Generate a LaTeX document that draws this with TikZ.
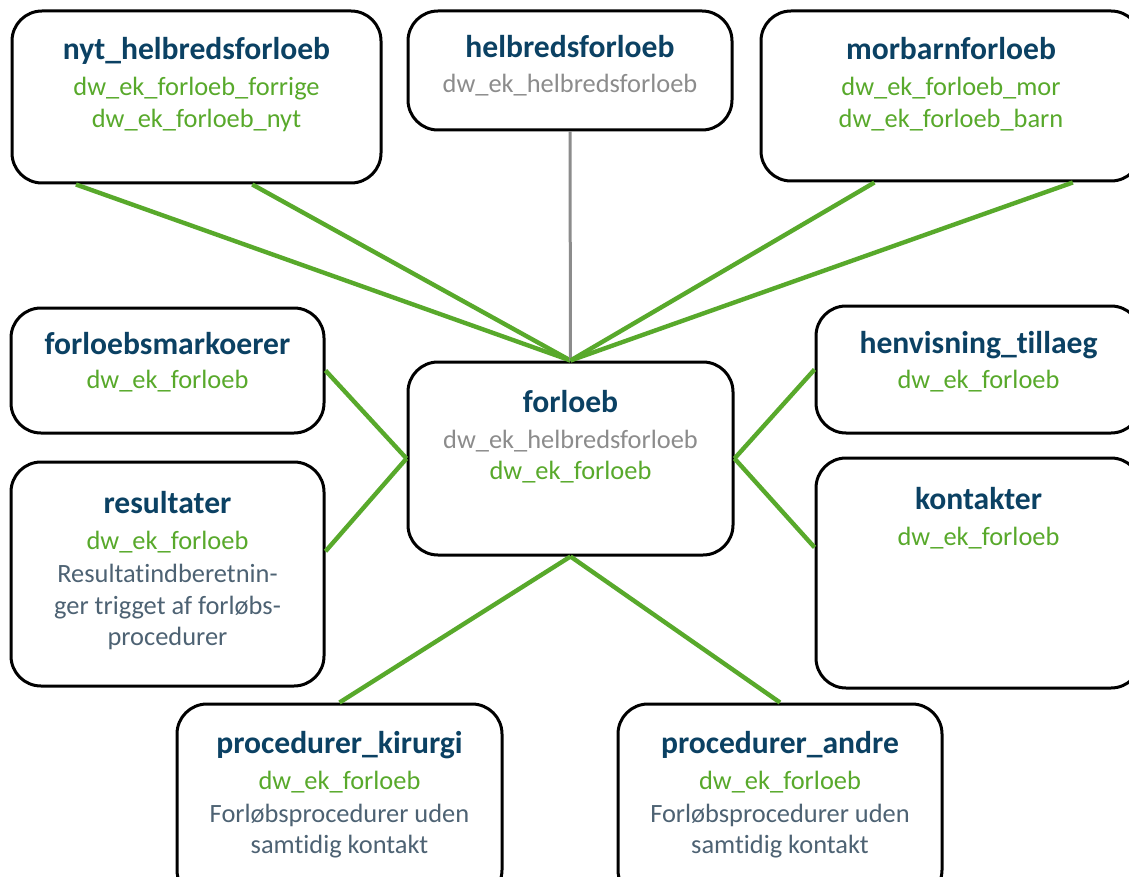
\documentclass[tikz,border=0pt]{standalone}
\usepackage{fontspec}
\setmainfont{Carlito}[Ligatures=NoCommon]
\usetikzlibrary{calc}
\definecolor{ttl}{HTML}{0B4163}
\definecolor{grn}{HTML}{58A92B}
\definecolor{gry}{HTML}{8C8C8C}
\definecolor{dsc}{HTML}{4D6273}
\tikzset{
 box/.style={draw=black, line width=1.5pt, rounded corners=15pt, fill=white, inner sep=0pt},
 ttlt/.style={anchor=base, inner sep=0pt, text=ttl, font=\fontsize{15.8}{19}\selectfont\bfseries},
 keyt/.style={anchor=base, inner sep=0pt, text=grn, font=\fontsize{13.2}{16}\selectfont},
 grayt/.style={keyt, text=gry},
 desct/.style={keyt, text=dsc},
 link/.style={draw=grn, line width=2.2pt},
 glink/.style={draw=gry, line width=1.5pt},
}
\begin{document}
\begin{tikzpicture}[x=0.5pt,y=-0.5pt]
\useasboundingbox (0,0) rectangle (1129,877);
\clip (0,0) rectangle (1129,877);
\fill[white] (0,0) rectangle (1129,877);
% boxes
\node[box, minimum width=184.5pt, minimum height=86pt] (nyt) at (196.5,97) {};
\node[box, minimum width=162pt, minimum height=59.5pt] (helb) at (570,70.5) {};
\node[box, minimum width=190pt, minimum height=85pt] (morb) at (951,96) {};
\node[box, minimum width=156.5pt, minimum height=62.5pt] (fmark) at (167.5,370.5) {};
\node[box, minimum width=162.5pt, minimum height=96.5pt] (forl) at (570.5,458.5) {};
\node[box, minimum width=156.5pt, minimum height=112pt] (res) at (167.5,574) {};
\node[box, minimum width=162.5pt, minimum height=63.5pt] (henv) at (978.5,369.5) {};
\node[box, minimum width=162.5pt, minimum height=115pt] (kont) at (978.5,573) {};
\node[box, minimum width=162.5pt, minimum height=98pt] (kir) at (339.5,802) {};
\node[box, minimum width=162pt, minimum height=98pt] (andre) at (780,802) {};
% connectors
\draw[link] ($(nyt.south west)!0.176!(nyt.south east)$) -- (forl.north);
\draw[link] ($(nyt.south west)!0.65!(nyt.south east)$) -- (forl.north);
\draw[glink] (helb.south) -- (forl.north);
\draw[link] ($(morb.south west)!0.30!(morb.south east)$) -- (forl.north);
\draw[link] ($(morb.south west)!0.818!(morb.south east)$) -- (forl.north);
\draw[link] (fmark.east) -- (forl.west);
\draw[link] ($(res.north east)!0.40!(res.south east)$) -- (forl.west);
\draw[link] (henv.west) -- (forl.east);
\draw[link] ($(kont.north west)!0.39!(kont.south west)$) -- (forl.east);
\draw[link] (forl.south) -- (kir.north);
\draw[link] (forl.south) -- (andre.north);
% texts
\node[ttlt] (nyt-t) at (196.5,60) {nyt\_helbredsforloeb};
\node[keyt] (nyt-1) at (196.5,96) {dw\_ek\_forloeb\_forrige};
\node[keyt] (nyt-2) at (196.5,128) {dw\_ek\_forloeb\_nyt};
\node[ttlt] (helb-t) at (570,58) {helbredsforloeb};
\node[grayt] (helb-1) at (570,93) {dw\_ek\_helbredsforloeb};
\node[ttlt] (morb-t) at (951,60) {morbarnforloeb};
\node[keyt] (morb-1) at (951,96) {dw\_ek\_forloeb\_mor};
\node[keyt] (morb-2) at (951,128) {dw\_ek\_forloeb\_barn};
\node[ttlt] (fmark-t) at (167.5,354) {forloebsmarkoerer};
\node[keyt] (fmark-1) at (167.5,388) {dw\_ek\_forloeb};
\node[ttlt] (forl-t) at (570.5,412) {forloeb};
\node[grayt] (forl-1) at (570.5,448) {dw\_ek\_helbredsforloeb};
\node[keyt] (forl-2) at (570.5,479) {dw\_ek\_forloeb};
\node[ttlt] (res-t) at (167.5,513) {resultater};
\node[keyt] (res-1) at (167.5,549) {dw\_ek\_forloeb};
\node[desct] (res-2) at (167.5,582) {Resultat\kern0pt indberetnin-};
\node[desct] (res-3) at (167.5,614) {ger trigget af forløbs-};
\node[desct] (res-4) at (167.5,645) {procedurer};
\node[ttlt] (henv-t) at (978.5,353) {henvisning\_t\kern0pt illaeg};
\node[keyt] (henv-1) at (978.5,388) {dw\_ek\_forloeb};
\node[ttlt] (kont-t) at (978.5,509) {kontakter};
\node[keyt] (kont-1) at (978.5,545) {dw\_ek\_forloeb};
\node[ttlt] (kir-t) at (339.5,753) {procedurer\_kirurgi};
\node[keyt] (kir-1) at (339.5,789) {dw\_ek\_forloeb};
\node[desct] (kir-2) at (339.5,822) {Forløbsprocedurer uden};
\node[desct] (kir-3) at (339.5,853) {samt\kern0pt idig kontakt};
\node[ttlt] (andre-t) at (780,753) {procedurer\_andre};
\node[keyt] (andre-1) at (780,789) {dw\_ek\_forloeb};
\node[desct] (andre-2) at (780,822) {Forløbsprocedurer uden};
\node[desct] (andre-3) at (780,853) {samt\kern0pt idig kontakt};
\end{tikzpicture}
\end{document}
